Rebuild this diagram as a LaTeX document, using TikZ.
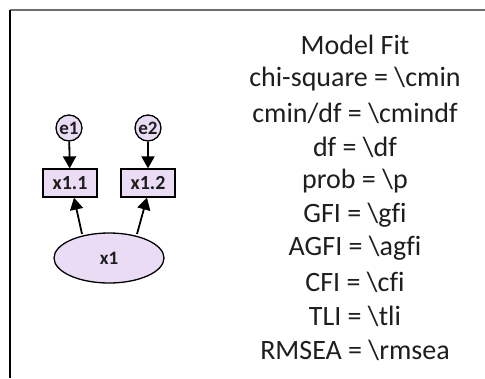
\documentclass[tikz,border=0pt]{standalone}
\usepackage{fontspec}
\setmainfont[Ligatures=NoCommon]{Carlito}
\usetikzlibrary{arrows.meta,shapes.geometric}
\definecolor{lav}{RGB}{234,220,245}
\definecolor{framegray}{RGB}{110,110,110}
\definecolor{ink}{RGB}{30,30,30}
\tikzset{
  obs/.style={draw=black, line width=1.3pt, fill=lav, minimum width=54pt, minimum height=28pt, inner sep=0pt, font=\fontsize{20}{20}\selectfont\bfseries, text=ink},
  err/.style={draw=black, line width=1.3pt, fill=lav, circle, minimum size=26pt, inner sep=0pt, font=\fontsize{19}{19}\selectfont\bfseries, text=ink},
  lat/.style={draw=black, line width=1.3pt, fill=lav, ellipse, minimum width=110pt, minimum height=50pt, inner sep=0pt, font=\fontsize{19}{19}\selectfont\bfseries, text=ink},
  path/.style={line width=1.8pt, -{Triangle[length=12pt,width=13pt]}},
  fit/.style={font=\fontsize{28}{28}\selectfont, anchor=center, text=ink}
}
\begin{document}
\begin{tikzpicture}[x=1pt,y=-1pt]
\useasboundingbox (0,0) rectangle (485,378);
\fill[white] (0,0) rectangle (485,378);
% frame
\draw[framegray, line width=1.2pt] (10,10) -- (485,10);
\draw[black, line width=1.2pt] (10,10) -- (10,378);
% path diagram
\node[err] (e1) at (69,128) {e1};
\node[err] (e2) at (148,128) {e2};
\node[obs] (v1) at (70,183) {x1.1};
\node[obs] (v2) at (148,183) {x1.2};
\node[lat] (f1) at (109,258) {x1};
\draw[path] (e1) -- (v1);
\draw[path] (e2) -- (v2);
\coordinate (f1a) at (82,234);
\coordinate (f1b) at (137,234);
\draw[path] (f1a) -- (v1.south -| 74,0);
\draw[path] (f1b) -- (v2.south -| 147,0);
% fit measures
\node[fit] (t0) at (355,45) {Model Fit};
\node[fit] (t1) at (355,79) {chi-square = \textbackslash cmin};
\node[fit] (t2) at (355,113) {cmin/df = \textbackslash cmindf};
\node[fit] (t3) at (355,147) {df = \textbackslash df};
\node[fit] (t4) at (355,181) {prob = \textbackslash p};
\node[fit] (t5) at (355,215) {GFI = \textbackslash gfi};
\node[fit] (t6) at (355,248) {AGFI = \textbackslash agfi};
\node[fit] (t7) at (355,282) {CFI = \textbackslash cfi};
\node[fit] (t8) at (355,316) {TLI = \textbackslash tli};
\node[fit] (t9) at (355,350) {RMSEA = \textbackslash rmsea};
\end{tikzpicture}
\end{document}
